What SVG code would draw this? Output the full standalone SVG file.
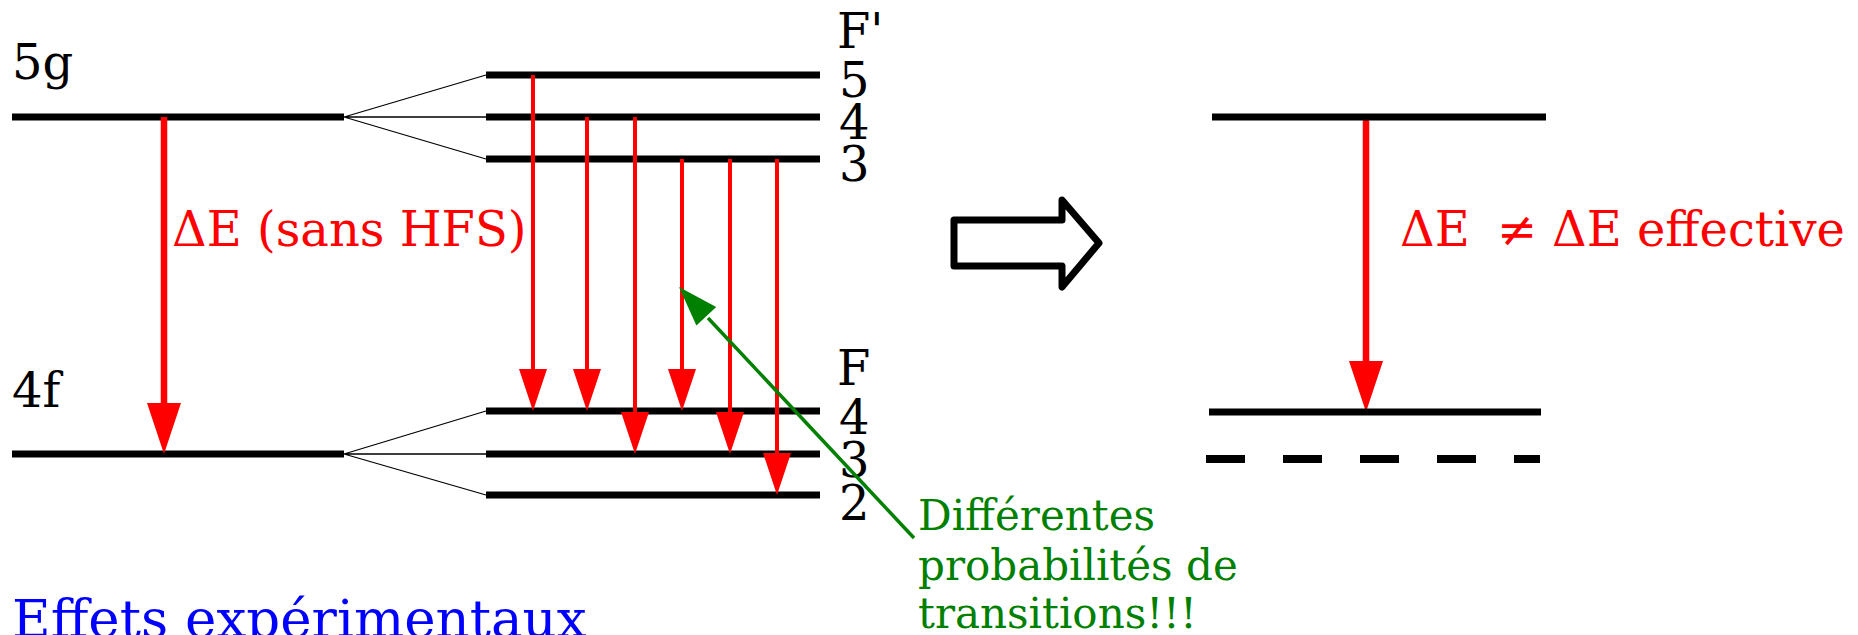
<svg xmlns="http://www.w3.org/2000/svg" width="1858" height="635" viewBox="0 0 1858 635">
<style>
  text { font-family: "DejaVu Serif", "Liberation Serif", serif; }
  .lbl { font-size: 48px; fill: #000; }
  .lvl { stroke: #000; stroke-width: 7; fill: none; }
  .fan { stroke: #000; stroke-width: 1.3; fill: none; }
  .tr { stroke: #ff0000; stroke-width: 4; fill: none; }
  .trb { stroke: #ff0000; stroke-width: 6.5; fill: none; }
  .hd { fill: #ff0000; stroke: none; }
  .red { font-size: 48px; fill: #ff0000; }
  .green { font-size: 42px; fill: #008000; }
</style>
<rect width="1858" height="635" fill="#fff"/>

<g id="level-5g">
  <line class="lvl" x1="12" y1="117" x2="344" y2="117"/>
  <text class="lbl" x="12" y="79">5g</text>
</g>
<g id="level-4f">
  <line class="lvl" x1="12" y1="454" x2="344" y2="454"/>
  <text class="lbl" x="12" y="407">4f</text>
</g>
<g id="hfs-upper">
  <text class="lbl" x="837" y="48">F'</text>
  <line class="lvl" x1="486" y1="75" x2="820" y2="75"/>
  <line class="lvl" x1="486" y1="117" x2="820" y2="117"/>
  <line class="lvl" x1="486" y1="159" x2="820" y2="159"/>
  <text class="lbl" x="839" y="97">5</text>
  <text class="lbl" x="839" y="139">4</text>
  <text class="lbl" x="839" y="181">3</text>
</g>
<g id="hfs-lower">
  <text class="lbl" x="837" y="385">F</text>
  <line class="lvl" x1="486" y1="411" x2="820" y2="411"/>
  <line class="lvl" x1="486" y1="454" x2="820" y2="454"/>
  <line class="lvl" x1="486" y1="495" x2="820" y2="495"/>
  <text class="lbl" x="839" y="434">4</text>
  <text class="lbl" x="839" y="477">3</text>
  <text class="lbl" x="839" y="520">2</text>
</g>

<g id="connectors">
  <!-- fan lines -->
  <path class="fan" d="M344,117 L486,75 M344,117 L486,117 M344,117 L486,159"/>
  <path class="fan" d="M344,454 L486,411 M344,454 L486,454 M344,454 L486,495"/>
  <!-- big transition -->
  <line class="trb" x1="164" y1="117" x2="164" y2="410"/>
  <polygon class="hd" points="147,403 181,403 164,454"/>
  <!-- hyperfine transitions -->
  <line class="tr" x1="533" y1="75" x2="533" y2="375"/>
  <polygon class="hd" points="519,369 547,369 533,411"/>
  <line class="tr" x1="587" y1="117" x2="587" y2="375"/>
  <polygon class="hd" points="573,369 601,369 587,411"/>
  <line class="tr" x1="635" y1="117" x2="635" y2="418"/>
  <polygon class="hd" points="621,412 649,412 635,454"/>
  <line class="tr" x1="682" y1="159" x2="682" y2="375"/>
  <polygon class="hd" points="668,369 696,369 682,411"/>
  <line class="tr" x1="730" y1="159" x2="730" y2="418"/>
  <polygon class="hd" points="716,412 744,412 730,454"/>
  <line class="tr" x1="777" y1="159" x2="777" y2="459"/>
  <polygon class="hd" points="763,453 791,453 777,495"/>
  <!-- green pointer -->
  <line x1="914" y1="538" x2="708" y2="318" stroke="#008000" stroke-width="3.5"/>
  <polygon points="679,287 716.2,307 696.4,325.4" fill="#008000"/>
  <!-- right transition -->
  <line class="trb" x1="1366" y1="117" x2="1366" y2="368"/>
  <polygon class="hd" points="1349,361 1383,361 1366,412"/>
</g>

<g id="label-sans-hfs">
  <text class="red" x="172" y="246">ΔE (sans HFS)</text>
</g>

<g id="green-note">
  <text class="green" x="918" y="530">Différentes</text>
  <text class="green" x="918" y="580">probabilités de</text>
  <text class="green" x="918" y="628">transitions!!!</text>
</g>

<g id="block-arrow">
  <polygon points="954,220 1062,220 1062,200 1099,243 1062,287 1062,266 954,266" fill="#fff" stroke="#000" stroke-width="7" stroke-linejoin="round"/>
</g>

<g id="right-levels">
  <line class="lvl" x1="1212" y1="117" x2="1546" y2="117"/>
  <line class="lvl" x1="1209" y1="412" x2="1541" y2="412"/>
  <line x1="1206" y1="459" x2="1540" y2="459" stroke="#000" stroke-width="8" stroke-dasharray="39 38"/>
</g>

<g id="label-effective">
  <text class="red" y="246"><tspan x="1400">ΔE</tspan><tspan x="1497">≠</tspan><tspan x="1552">ΔE effective</tspan></text>
</g>

<g id="title">
  <text x="12" y="637" font-size="53" fill="#0000ff">Effets expérimentaux</text>
</g>
</svg>
